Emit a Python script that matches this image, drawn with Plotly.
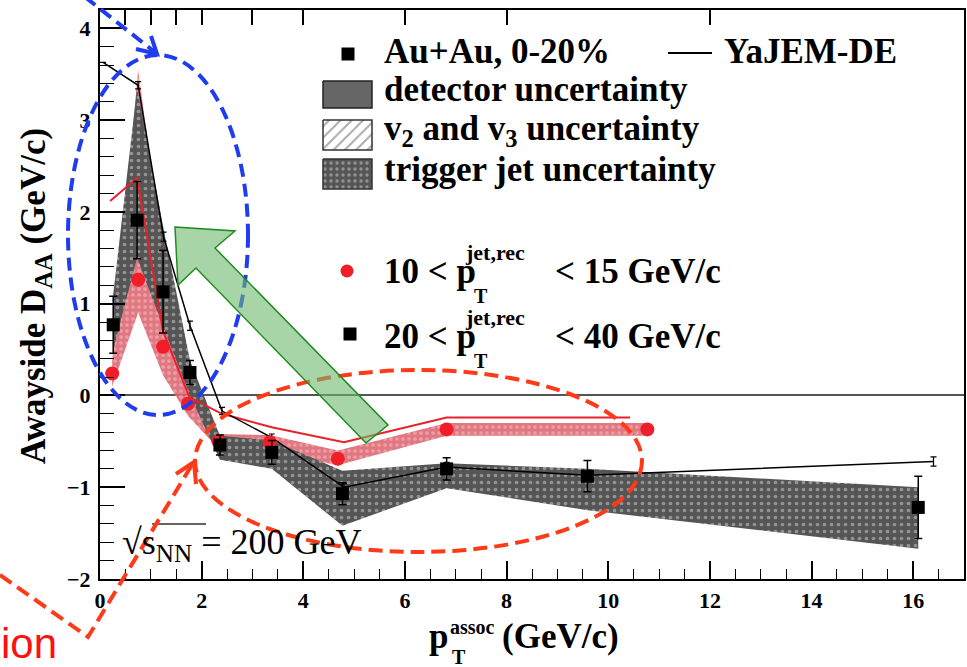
import plotly.graph_objects as go

# ---------------- data ----------------
pt_black = [0.26, 0.73, 1.24, 1.77, 2.36, 3.38, 4.77, 6.82, 9.59, 16.1]
daa_black = [0.77, 1.91, 1.13, 0.25, -0.54, -0.62, -1.07, -0.80, -0.88, -1.22]
err_black = [0.31, 0.42, 0.45, 0.13, 0.11, 0.13, 0.12, 0.12, 0.17, 0.34]
band_black_lo = [0.50, 1.50, 0.75, 0.00, -0.70, -0.80, -1.42, -1.01, -1.25, -1.67]
band_black_hi = [1.10, 3.35, 1.85, 0.38, -0.44, -0.49, -0.82, -0.74, -0.80, -1.00]

pt_red = [0.24, 0.75, 1.24, 1.73, 2.33, 3.34, 4.68, 6.82, 10.77]
daa_red = [0.24, 1.26, 0.53, -0.09, -0.50, -0.51, -0.69, -0.37, -0.37]
band_red_lo = [0.10, 0.90, 0.22, -0.22, -0.58, -0.62, -0.76, -0.44, -0.44]
band_red_hi = [0.38, 3.55, 1.55, 0.08, -0.42, -0.43, -0.60, -0.30, -0.30]

yajem_black_pt = [0.06, 0.75, 1.25, 1.77, 2.40, 3.38, 4.80, 6.82, 9.60, 16.4]
yajem_black = [3.63, 3.38, 1.73, 0.76, -0.17, -0.46, -1.00, -0.78, -0.87, -0.72]
yajem_black_err = [0.0, 0.04, 0.05, 0.05, 0.04, 0.04, 0.04, 0.05, 0.05, 0.05]

yajem_red_pt = [0.20, 0.73, 1.24, 1.76, 2.40, 3.40, 4.80, 6.82, 10.43]
yajem_red = [2.12, 2.37, 0.70, -0.02, -0.20, -0.35, -0.51, -0.24, -0.24]

bin_edges = [0.5, 1, 1.5, 2, 3, 4, 6, 8, 12]
x_tick_vals = [0, 2, 4, 6, 8, 10, 12, 14, 16]
y_tick_vals = [-2, -1, 0, 1, 2, 3, 4]

# ---------------- layout geometry ----------------
W, H = 967, 667
L, R, T, B = 100, 964, 10, 579
SERIF = "Liberation Serif"


def px(x):
    return (x - L) / (R - L)


def py(y):
    return (B - y) / (B - T)


fig = go.Figure()

# red band (under the grey one)
fig.add_trace(go.Scatter(
    x=pt_red + pt_red[::-1], y=band_red_hi + band_red_lo[::-1],
    fill="toself", mode="none", name="red band",
    fillcolor="rgba(222,95,105,0.9)",
    fillpattern=dict(shape=".", bgcolor="rgba(220,100,110,0.88)", fgcolor="#f3c8cc",
                     size=6, solidity=0.3),
    showlegend=False, hoverinfo="skip"))

# grey band (trigger jet uncertainty)
fig.add_trace(go.Scatter(
    x=pt_black + pt_black[::-1], y=band_black_hi + band_black_lo[::-1],
    fill="toself", mode="none", name="trigger jet uncertainty",
    fillcolor="#555555",
    fillpattern=dict(shape=".", bgcolor="#555555", fgcolor="#cfcfcf", size=7, solidity=0.22),
    showlegend=False, hoverinfo="skip"))

# YaJEM-DE curves
fig.add_trace(go.Scatter(
    x=yajem_red_pt, y=yajem_red, mode="lines", name="YaJEM-DE 10-15",
    line=dict(color="#e8202a", width=2), showlegend=False))
fig.add_trace(go.Scatter(
    x=yajem_black_pt, y=yajem_black, mode="lines", name="YaJEM-DE 20-40",
    line=dict(color="black", width=1.5),
    error_y=dict(type="data", array=yajem_black_err, color="black", thickness=1.2, width=3),
    showlegend=False))

# data points
fig.add_trace(go.Scatter(
    x=pt_red, y=daa_red, mode="markers", name="10 < pT < 15",
    marker=dict(symbol="circle", size=14, color="#f01e28"), showlegend=False))
fig.add_trace(go.Scatter(
    x=pt_black, y=daa_black, mode="markers", name="20 < pT < 40",
    marker=dict(symbol="square", size=13, color="black"),
    error_y=dict(type="data", array=err_black, color="black", thickness=1.5, width=4),
    showlegend=False))

# invisible trace for the top (bin edge) tick axis
fig.add_trace(go.Scatter(x=bin_edges, y=[0] * len(bin_edges), xaxis="x2", yaxis="y",
                         mode="markers", marker=dict(opacity=0), showlegend=False,
                         hoverinfo="skip"))

# ---------------- legend swatches (pixel overlay axes) ----------------
def box(x0, y0, x1, y1):
    return [x0, x1, x1, x0, x0], [y0, y0, y1, y1, y0]


bx, by = box(323, 81, 372, 108)
fig.add_trace(go.Scatter(x=bx, y=by, xaxis="x3", yaxis="y3", fill="toself", mode="lines",
                         fillcolor="#666666", line=dict(color="#222", width=1.5),
                         showlegend=False, hoverinfo="skip"))
bx, by = box(323, 120, 372, 150)
fig.add_trace(go.Scatter(x=bx, y=by, xaxis="x3", yaxis="y3", fill="toself", mode="lines",
                         fillcolor="white",
                         fillpattern=dict(shape="/", bgcolor="white", fgcolor="#555", size=8,
                                          solidity=0.25),
                         line=dict(color="#333", width=1.5), showlegend=False, hoverinfo="skip"))
bx, by = box(323, 159, 372, 189)
fig.add_trace(go.Scatter(x=bx, y=by, xaxis="x3", yaxis="y3", fill="toself", mode="lines",
                         fillcolor="#555555",
                         fillpattern=dict(shape=".", bgcolor="#555555", fgcolor="#d0d0d0", size=6,
                                          solidity=0.25),
                         line=dict(color="#333", width=1.5), showlegend=False, hoverinfo="skip"))
fig.add_trace(go.Scatter(x=[348], y=[54], xaxis="x3", yaxis="y3", mode="markers",
                         marker=dict(symbol="square", size=13, color="black"),
                         showlegend=False, hoverinfo="skip"))
fig.add_trace(go.Scatter(x=[668, 712], y=[53, 53], xaxis="x3", yaxis="y3", mode="lines",
                         line=dict(color="black", width=2), showlegend=False, hoverinfo="skip"))
fig.add_trace(go.Scatter(x=[347], y=[271], xaxis="x3", yaxis="y3", mode="markers",
                         marker=dict(symbol="circle", size=13, color="#f01e28"),
                         showlegend=False, hoverinfo="skip"))
fig.add_trace(go.Scatter(x=[350], y=[334], xaxis="x3", yaxis="y3", mode="markers",
                         marker=dict(symbol="square", size=13, color="black"),
                         showlegend=False, hoverinfo="skip"))

# ---------------- text ----------------
annotations = []


def txt(text, x, y, size, bold=True, color="black", family=SERIF, xanchor="left",
        yanchor="middle", angle=0):
    annotations.append(dict(
        text=text, x=px(x), y=py(y), xref="paper", yref="paper", showarrow=False,
        xanchor=xanchor, yanchor=yanchor, textangle=angle,
        font=dict(family=family, size=size, color=color, weight="bold" if bold else "normal")))


FS = 35
txt("Au+Au, 0-20%", 382, 51, FS)
txt("YaJEM-DE", 722, 51, FS)
txt("detector uncertainty", 382, 90, FS)
txt("v<sub>2</sub> and v<sub>3</sub> uncertainty", 382, 130, FS)
txt("trigger jet uncertainty", 382, 170, FS)

for yb, lo, hi in [(271, "10", "15"), (336, "20", "40")]:
    txt(lo + " &lt; p", 382, yb, FS)
    txt("jet,rec", 463, yb - 19, 22)
    txt("T", 472, yb + 25, 20)
    txt("&lt; " + hi + " GeV/c", 553, yb, FS)

txt("√s<sub>NN</sub> = 200 GeV", 120, 544, 36, bold=False)

# axis titles
txt("p", 427, 636, FS)
txt("assoc", 448, 627, 20)
txt("T", 450, 657, 20)
txt("(GeV/c)", 500, 636, FS)
txt("Awayside D<sub>AA</sub> (GeV/c)", 36, 296, 35, xanchor="center", angle=-90)

# slide overlay text
txt("ion", -1, 643, 42, bold=False, color="#ff1010", family="Liberation Sans")

# ---------------- overlay shapes ----------------
shapes = []


def pline(pts, color, width, dash=None):
    d = "M " + " L ".join(f"{px(a):.5f},{py(b):.5f}" for a, b in pts)
    shapes.append(dict(type="path", path=d, xref="paper", yref="paper", layer="above",
                       line=dict(color=color, width=width, dash=dash)))


# sqrt overline
pline([(152, 524), (206, 524)], "#333", 1.5)

BLUE = "#1f3cf0"
REDD = "#ff3a18"
# blue dashed ellipse + arrow
shapes.append(dict(type="circle", xref="paper", yref="paper", layer="above",
                   x0=px(68), x1=px(248), y0=py(415), y1=py(55),
                   line=dict(color=BLUE, width=4, dash="13px,7px")))
pline([(85, -3), (156, 53)], BLUE, 4, "13px,7px")
pline([(136, 49), (157, 54), (151, 36)], BLUE, 4)

# red dashed ellipse + arrow
shapes.append(dict(type="circle", xref="paper", yref="paper", layer="above",
                   x0=px(195), x1=px(642), y0=py(552), y1=py(370),
                   line=dict(color=REDD, width=4, dash="14px,7px")))
pline([(0, 575), (88, 637), (193, 463)], REDD, 4, "14px,7px")
pline([(176, 474), (194, 462), (196, 484)], REDD, 4)

# green block arrow
gpts = [(175, 227), (235, 231), (215, 248), (388, 425), (366, 443), (196, 268), (178, 285)]
gpath = "M " + " L ".join(f"{px(a):.5f},{py(b):.5f}" for a, b in gpts) + " Z"
shapes.append(dict(type="path", path=gpath, xref="paper", yref="paper", layer="above",
                   fillcolor="rgba(110,185,110,0.6)", line=dict(color="#1e8c1e", width=1.5)))

# ---------------- axes ----------------
fig.update_layout(
    width=W, height=H, autosize=False,
    margin=dict(l=L, r=W - R, t=T, b=H - B, pad=0, autoexpand=False),
    paper_bgcolor="white", plot_bgcolor="white",
    showlegend=False,
    annotations=annotations, shapes=shapes,
    xaxis=dict(range=[0, 17], tickvals=x_tick_vals, ticks="inside", ticklen=18, tickwidth=1.5,
               tickcolor="black", showline=True, linecolor="black", linewidth=2, mirror=True,
               showgrid=False, zeroline=False, automargin=False,
               tickfont=dict(family=SERIF, size=22, color="black", weight="bold"),
               ticklabelstandoff=1,
               minor=dict(ticks="inside", dtick=0.5, ticklen=10, tickwidth=1.2, tickcolor="black",
                          showgrid=False)),
    xaxis2=dict(range=[0, 17], overlaying="x", side="top", tickvals=bin_edges, ticks="inside",
                ticklen=15, tickwidth=1.5, tickcolor="black", showticklabels=False,
                showline=False, showgrid=False, zeroline=False, automargin=False),
    yaxis=dict(range=[-2, 4.2], tickvals=y_tick_vals, ticks="inside", ticklen=25, tickwidth=1.5,
               tickcolor="black", showline=True, linecolor="black", linewidth=2, mirror=True,
               showgrid=False, zeroline=True, zerolinecolor="#555", zerolinewidth=2,
               automargin=False,
               tickfont=dict(family=SERIF, size=22, color="black", weight="bold"),
               ticklabelstandoff=3,
               minor=dict(ticks="inside", dtick=0.2, ticklen=14, tickwidth=1.2, tickcolor="black",
                          showgrid=False)),
    xaxis3=dict(range=[L, R], overlaying="x", visible=False, fixedrange=True, automargin=False),
    yaxis3=dict(range=[B, T], overlaying="y", visible=False, fixedrange=True, automargin=False),
)

fig.write_html("out.html", config={"displayModeBar": False},
               post_script="document.body.style.margin='0';")
